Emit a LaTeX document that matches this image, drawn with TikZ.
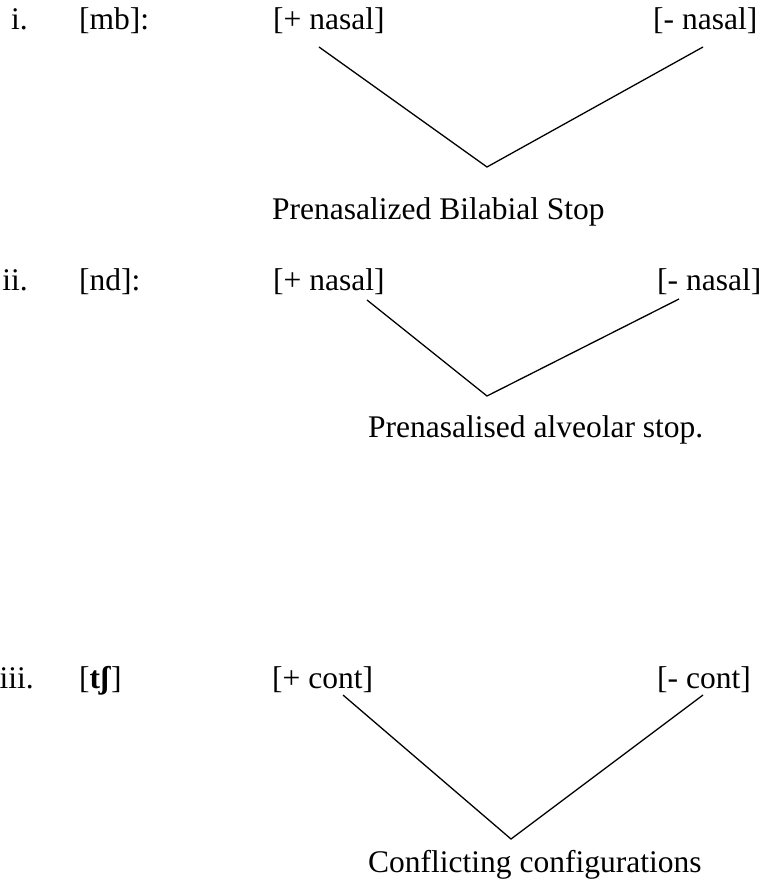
\documentclass[tikz,border=0pt]{standalone}
\usepackage{fontspec}
\setmainfont{Liberation Serif}
\tikzset{
  feat/.style={anchor=base west, inner sep=0pt},
  branch/.style={line width=1.3pt}
}
\begin{document}
\begin{tikzpicture}[x=1pt, y=-1pt, font=\fontsize{31.5}{38}\selectfont]
\useasboundingbox (0,0) rectangle (761,882);
% numbering, right aligned
\foreach \k/\num/\x/\y in {I/i./28/30, II/ii./28/290, III/iii./34/688}
  \node[anchor=base east, inner sep=0pt] (num\k) at (\x,\y) {\num};
% segments
\node[feat] (segI)   at (79,30)  {[mb]:};
\node[feat] (segII)  at (79,290) {[nd]:};
\node[feat] (segIII) at (79,688) {[\textbf{tʃ}]};
% features
\node[feat] (plusI)    at (273,30)  {[+ nasal]};
\node[feat] (minusI)   at (653,30)  {[- nasal]};
\node[feat] (plusII)   at (273,290) {[+ nasal]};
\node[feat] (minusII)  at (657,290) {[- nasal]};
\node[feat] (plusIII)  at (272,688) {[+ cont]};
\node[feat] (minusIII) at (657,688) {[- cont]};
% results
\node[feat] (resI)   at (272,220) {Prenasalized Bilabial Stop};
\node[feat] (resII)  at (368,437) {Prenasalised alveolar stop.};
\node[feat] (resIII) at (368,872) {Conflicting configurations};
% branch ends and joins
\coordinate (aI)   at (319,47);  \coordinate (bI)   at (703,47);  \coordinate (vI)   at (487,167);
\coordinate (aII)  at (367,300); \coordinate (bII)  at (679,299); \coordinate (vII)  at (487,396);
\coordinate (aIII) at (343,695); \coordinate (bIII) at (703,695); \coordinate (vIII) at (511,839);
\foreach \k in {I,II,III}
  \draw[branch] (a\k) -- (v\k) -- (b\k);
\end{tikzpicture}
\end{document}
